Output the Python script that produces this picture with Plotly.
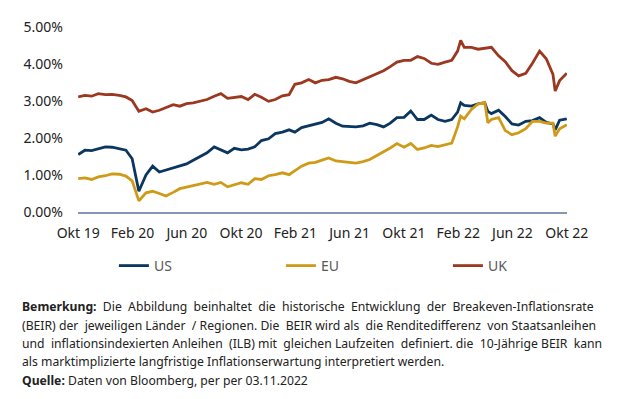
import plotly.graph_objects as go
import pandas as pd

dates = ["2019-11-03","2019-11-18","2019-12-03","2019-12-18","2020-01-03","2020-01-18","2020-02-03","2020-02-18",
         "2020-03-03","2020-03-18","2020-04-03","2020-04-18","2020-05-03","2020-05-18","2020-06-03","2020-06-18",
         "2020-07-03","2020-07-18","2020-08-03","2020-08-18","2020-09-03","2020-09-18","2020-10-03","2020-10-18",
         "2020-11-03","2020-11-18","2020-12-03","2020-12-18","2021-01-03","2021-01-18","2021-02-03","2021-02-18",
         "2021-03-03","2021-03-18","2021-04-03","2021-04-18","2021-05-03","2021-05-18","2021-06-03","2021-06-18",
         "2021-07-03","2021-07-18","2021-08-03","2021-08-18","2021-09-03","2021-09-18","2021-10-03","2021-10-18",
         "2021-11-03","2021-11-18","2021-12-03","2021-12-18","2022-01-03","2022-01-18","2022-02-03","2022-02-18",
         "2022-03-03","2022-03-10","2022-03-18","2022-04-03","2022-04-18","2022-05-03","2022-05-10","2022-05-18",
         "2022-06-03","2022-06-18","2022-07-03","2022-07-18","2022-08-03","2022-08-18","2022-09-03","2022-09-18",
         "2022-10-03","2022-10-08","2022-10-18","2022-11-03"]

us = [1.55,1.67,1.66,1.71,1.76,1.75,1.71,1.67,
      1.44,0.56,1.00,1.24,1.08,1.13,1.19,1.23,
      1.30,1.40,1.50,1.60,1.76,1.68,1.60,1.72,
      1.68,1.70,1.76,1.93,1.98,2.12,2.16,2.22,
      2.16,2.28,2.33,2.36,2.42,2.52,2.40,2.32,
      2.30,2.30,2.33,2.40,2.36,2.30,2.40,2.55,
      2.56,2.73,2.50,2.50,2.62,2.50,2.45,2.50,
      2.70,2.95,2.88,2.86,2.92,2.95,2.72,2.66,
      2.75,2.58,2.38,2.35,2.45,2.47,2.55,2.42,
      2.38,2.22,2.48,2.52]

eu = [0.90,0.92,0.88,0.95,0.98,1.03,1.02,0.97,
      0.84,0.30,0.52,0.56,0.50,0.43,0.53,0.63,
      0.67,0.71,0.77,0.80,0.75,0.80,0.68,0.73,
      0.79,0.75,0.90,0.88,0.98,1.01,1.06,1.01,
      1.12,1.24,1.32,1.34,1.40,1.46,1.38,1.35,
      1.34,1.32,1.36,1.42,1.52,1.62,1.73,1.85,
      1.75,1.85,1.69,1.73,1.80,1.77,1.82,1.86,
      2.30,2.59,2.52,2.77,2.92,2.96,2.41,2.50,
      2.55,2.20,2.09,2.14,2.25,2.45,2.45,2.40,
      2.40,2.05,2.25,2.36]

uk = [3.11,3.15,3.13,3.20,3.17,3.18,3.15,3.11,
      3.01,2.72,2.79,2.70,2.75,2.82,2.90,2.86,
      2.93,2.95,3.00,3.04,3.13,3.20,3.07,3.10,
      3.12,3.04,3.18,3.10,2.99,3.04,3.14,3.17,
      3.45,3.49,3.58,3.49,3.56,3.58,3.64,3.60,
      3.53,3.49,3.58,3.65,3.74,3.82,3.93,4.05,
      4.10,4.10,4.20,4.15,4.02,3.99,4.05,4.10,
      4.35,4.64,4.45,4.45,4.40,4.42,4.44,4.45,
      4.22,4.06,3.82,3.68,3.75,4.02,4.35,4.14,
      3.72,3.27,3.55,3.75]

series_names = ["US", "EU", "UK"]
series_colors = ["#0B3660", "#CF9A17", "#9C3820"]
x_tick_labels = ["Okt 19","Feb 20","Jun 20","Okt 20","Feb 21","Jun 21","Okt 21","Feb 22","Jun 22","Okt 22"]
y_tick_values = [0, 1, 2, 3, 4, 5]
y_tick_labels = ["0.00%", "1.00%", "2.00%", "3.00%", "4.00%", "5.00%"]

note_lines = [
    "<b>Bemerkung:</b> Die Abbildung beinhaltet die historische Entwicklung der Breakeven-Inflationsrate",
    "(BEIR) der jeweiligen Länder / Regionen. Die BEIR wird als die Renditedifferenz von Staatsanleihen",
    "und inflationsindexierten Anleihen (ILB) mit gleichen Laufzeiten definiert. die 10-Jährige BEIR kann",
    "als marktimplizierte langfristige Inflationserwartung interpretiert werden.",
    "<b>Quelle:</b> Daten von Bloomberg, per per 03.11.2022",
]
# extra word spacing (non-breaking spaces) to approximate justified lines
note_extra_spaces = [10, 5, 6, 0, 0]


def widen(line, n_extra):
    if n_extra <= 0:
        return line
    parts = line.split(" ")
    gaps = len(parts) - 1
    chosen = set(round((i + 0.5) * gaps / n_extra - 0.5) for i in range(n_extra))
    out = parts[0]
    for g in range(gaps):
        out += (" \u00a0" if g in chosen else " ") + parts[g + 1]
    return out


FONT = "Noto Sans"
x_dates = pd.to_datetime(dates)
x_start, x_end = x_dates.min(), x_dates.max()
tickvals = pd.date_range(x_start, x_end, periods=len(x_tick_labels))

fig = go.Figure()
for name, vals, col in zip(series_names, [us, eu, uk], series_colors):
    fig.add_trace(go.Scatter(x=x_dates, y=vals, mode="lines", name=name,
                             line=dict(color=col, width=2.8)))

fig.update_layout(
    width=622, height=399,
    margin=dict(l=78, r=55, t=27, b=187, autoexpand=False),
    paper_bgcolor="white", plot_bgcolor="white",
    font=dict(family=FONT, size=14, color="#222222"),
    showlegend=True,
    legend=dict(orientation="h", x=1.098, xanchor="right", y=(212 - 266) / 185, yanchor="middle",
                entrywidth=122, entrywidthmode="pixels",
                font=dict(family=FONT, size=14, color="#595959"),
                bgcolor="rgba(0,0,0,0)"),
)
fig.update_xaxes(type="date", automargin=False,
                 range=[x_start - pd.Timedelta(hours=12), x_end + pd.Timedelta(hours=12)],
                 tickvals=tickvals, ticktext=x_tick_labels,
                 showgrid=False, zeroline=False, showline=True, linecolor="#8497B0", linewidth=1.5,
                 ticks="", ticklabelstandoff=7, tickfont=dict(size=14, color="#222222"))
fig.update_yaxes(range=[0, 5], automargin=False, tickvals=y_tick_values, ticktext=y_tick_labels,
                 showgrid=False, zeroline=False, showline=False, ticks="",
                 ticklabelstandoff=14, tickfont=dict(size=14, color="#222222"))

line_y_px = [306, 325, 343, 361, 380]
for txt, extra, ypx in zip(note_lines, note_extra_spaces, line_y_px):
    fig.add_annotation(text=widen(txt, extra), xref="paper", yref="paper",
                       x=(20 - 78) / 489, y=(212 - ypx) / 185,
                       xanchor="left", yanchor="middle", showarrow=False,
                       font=dict(family=FONT, size=12.2, color="#222222"), align="left")

fig.write_html("out.html", config={"displayModeBar": False},
               post_script="document.body.style.margin='0';document.body.style.overflow='hidden';")
